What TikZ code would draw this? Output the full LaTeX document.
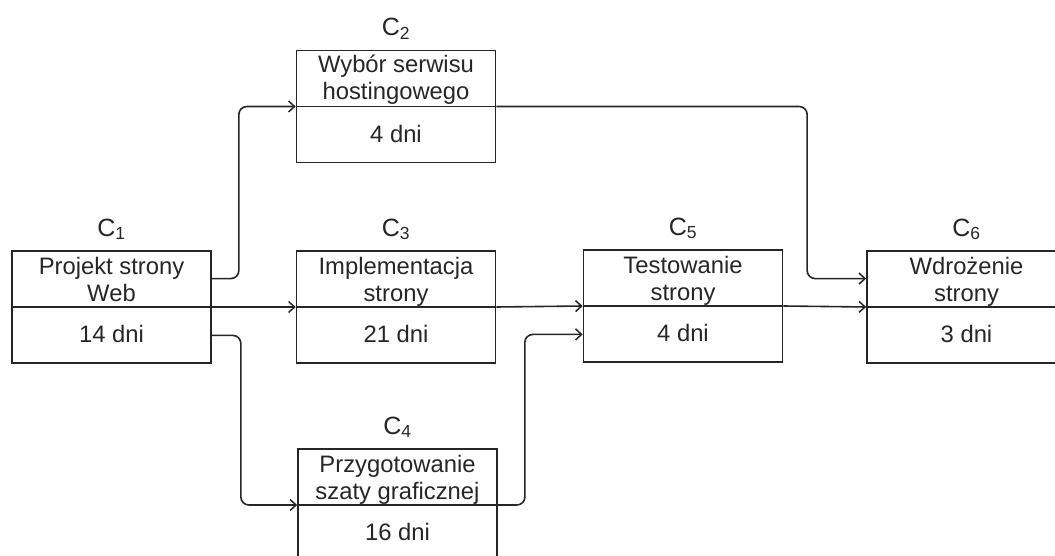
\documentclass[tikz,border=0pt]{standalone}
\usepackage{fontspec}
\setmainfont{Liberation Sans}
\usetikzlibrary{arrows.meta,calc}
\definecolor{ink}{HTML}{262626}
\tikzset{
  task/.style={draw=ink, line width=1.7pt, minimum width=199pt, minimum height=112pt, inner sep=0pt},
  txt/.style={text=ink, font=\fontsize{23.8}{27}\selectfont, align=center, inner sep=0pt, anchor=base},
  lab/.style={text=ink, font=\fontsize{25}{28}\selectfont, inner sep=0pt, anchor=base},
  conn/.style={draw=ink, line width=1.6pt, rounded corners=8pt, -{Straight Barb[length=6pt,width=11pt,line width=1.5pt]}},
  divline/.style={draw=ink, line width=1.7pt}
}
\begin{document}
\begin{tikzpicture}[x=1pt,y=-1pt]
\useasboundingbox (0,0) rectangle (1055,556);
\clip (0,0) rectangle (1055,556);
% boxes
\node[task] (c1) at (111.5,307) {};
\node[task] (c2) at (396,106.5) {};
\node[task] (c3) at (396,307) {};
\node[task] (c4) at (397.5,505) {};
\node[task] (c5) at (683,306) {};
\node[task] (c6) at (966.5,307) {};
\foreach \n in {c1,c2,c3,c4,c5,c6}{
  \draw[divline] (\n.west) -- (\n.east);
  \coordinate (\n ue) at ($(\n.north east)!0.5!(\n.east)$);
  \coordinate (\n le) at ($(\n.south east)!0.5!(\n.east)$);
  \coordinate (\n uw) at ($(\n.north west)!0.5!(\n.west)$);
  \coordinate (\n lw) at ($(\n.south west)!0.5!(\n.west)$);
}
% labels
\node[lab] (l1) at ([yshift=14pt]c1.north) {C\textsubscript{1}};
\node[lab] (l2) at ([yshift=14pt]c2.north) {C\textsubscript{2}};
\node[lab] (l3) at ([yshift=14pt]c3.north) {C\textsubscript{3}};
\node[lab] (l4) at ([yshift=14pt]c4.north) {C\textsubscript{4}};
\node[lab] (l5) at ([yshift=14pt]c5.north) {C\textsubscript{5}};
\node[lab] (l6) at ([yshift=14pt]c6.north) {C\textsubscript{6}};
% texts (base anchor = last line's baseline)
\node[txt] (t1) at ([yshift=-51pt]c1.north) {Projekt strony\\Web};
\node[txt] (d1) at ([yshift=-92pt]c1.north) {14 dni};
\node[txt] (t2) at ([yshift=-50pt]c2.north) {Wybór serwisu\\hostingowego};
\node[txt] (d2) at ([yshift=-93pt]c2.north) {4 dni};
\node[txt] (t3) at ([yshift=-51pt]c3.north) {Implementacja\\strony};
\node[txt] (d3) at ([yshift=-92pt]c3.north) {21 dni};
\node[txt] (t4) at ([yshift=-51pt]c4.north) {Przygotowanie\\szaty graficznej};
\node[txt] (d4) at ([yshift=-92pt]c4.north) {16 dni};
\node[txt] (t5) at ([yshift=-51pt]c5.north) {Testowanie\\strony};
\node[txt] (d5) at ([yshift=-92pt]c5.north) {4 dni};
\node[txt] (t6) at ([yshift=-51pt]c6.north) {Wdrożenie\\strony};
\node[txt] (d6) at ([yshift=-92pt]c6.north) {3 dni};
% connectors
\draw[conn] (c1ue) -- ++(27,0) |- (c2.west);
\draw[conn] (c1.east) -- (c3.west);
\draw[conn] (c1le) -- ++(29,0) |- (c4.west);
\draw[conn] (c2.east) -| ([xshift=-59pt]c6uw) -- (c6uw);
\draw[conn] (c3.east) -- (c5.west);
\draw[conn] (c4.east) -- ++(27,0) |- (c5lw);
\draw[conn] (c5.east) -- (c6.west);
\end{tikzpicture}
\end{document}
